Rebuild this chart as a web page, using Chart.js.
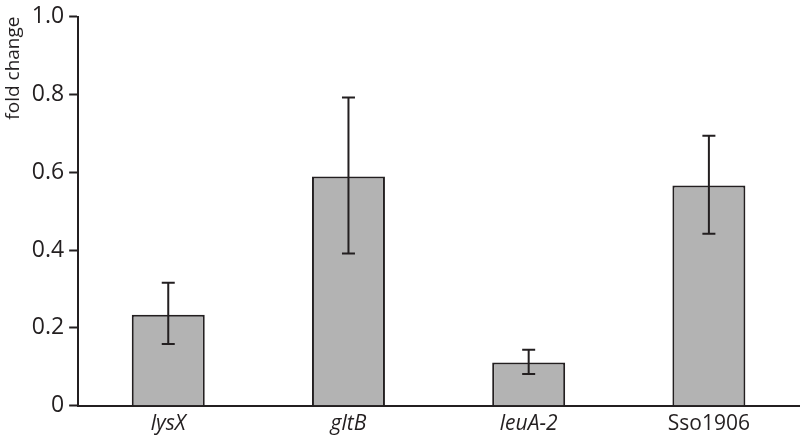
<!DOCTYPE html>
<html>
<head>
<meta charset="utf-8">
<script src="https://cdn.jsdelivr.net/npm/chart.js@4"></script>
<style>
  html, body { margin: 0; padding: 0; background: #fff; }
  #wrap { width: 800px; height: 443px; }
</style>
</head>
<body>
<div id="wrap"><canvas id="myChart"></canvas></div>
<script>
// values
const genes = ['lysX', 'gltB', 'leuA-2', 'Sso1906'];
const italicGenes = [true, true, true, false];
const foldChange = [0.234, 0.589, 0.111, 0.566];
const errHigh = [0.316, 0.792, 0.144, 0.694];
const errLow = [0.159, 0.391, 0.082, 0.442];
const yTicks = [0, 0.2, 0.4, 0.6, 0.8, 1.0];

const ink = '#231f20';
const fontName = '"Open Sans", "Noto Sans", sans-serif';

// draws the error bars with the y scale
const errorBars = {
  id: 'errorBars',
  afterDatasetsDraw(chart) {
    const ctx = chart.ctx;
    const y = chart.scales.y;
    const meta = chart.getDatasetMeta(0);
    ctx.save();
    ctx.strokeStyle = ink;
    ctx.lineWidth = 2;
    meta.data.forEach((bar, i) => {
      const top = y.getPixelForValue(errHigh[i]);
      const bot = y.getPixelForValue(errLow[i]);
      const half = 6.5;
      ctx.beginPath();
      ctx.moveTo(bar.x, top);
      ctx.lineTo(bar.x, bot);
      ctx.moveTo(bar.x - half, top);
      ctx.lineTo(bar.x + half, top);
      ctx.moveTo(bar.x - half, bot);
      ctx.lineTo(bar.x + half, bot);
      ctx.stroke();
    });
    ctx.restore();
  }
};

new Chart(document.getElementById('myChart'), {
  type: 'bar',
  data: {
    labels: genes,
    datasets: [{
      data: foldChange,
      backgroundColor: '#b3b3b3',
      borderColor: ink,
      borderWidth: 2,
      borderSkipped: 'bottom',
      barPercentage: 0.81,
      categoryPercentage: 0.5
    }]
  },
  options: {
    responsive: true,
    maintainAspectRatio: false,
    animation: false,
    layout: { padding: { top: 1, right: 1, bottom: 0, left: 2 } },
    plugins: { legend: { display: false }, tooltip: { enabled: false } },
    scales: {
      x: {
        grid: { display: false, drawTicks: false },
        border: { display: true, color: ink, width: 2 },
        ticks: {
          color: ink,
          padding: 6,
          font: (c) => ({ family: fontName, size: 21, style: italicGenes[c.index] ? 'italic' : 'normal' })
        }
      },
      y: {
        min: 0,
        max: 1,
        afterBuildTicks: (axis) => { axis.ticks = yTicks.map(v => ({ value: v })); },
        grid: { drawOnChartArea: false, drawTicks: true, tickLength: 9, tickWidth: 2, color: ink },
        border: { display: true, color: ink, width: 2 },
        ticks: {
          color: ink,
          padding: 5,
          font: { family: fontName, size: 23, lineHeight: 1 },
          callback: (v) => v === 0 ? '0' : v.toFixed(1)
        },
        title: {
          display: true,
          text: 'fold change',
          align: 'end',
          color: ink,
          padding: { top: 0, bottom: 2 },
          font: { family: fontName, size: 19 }
        }
      }
    }
  },
  plugins: [errorBars]
});
</script>
</body>
</html>
